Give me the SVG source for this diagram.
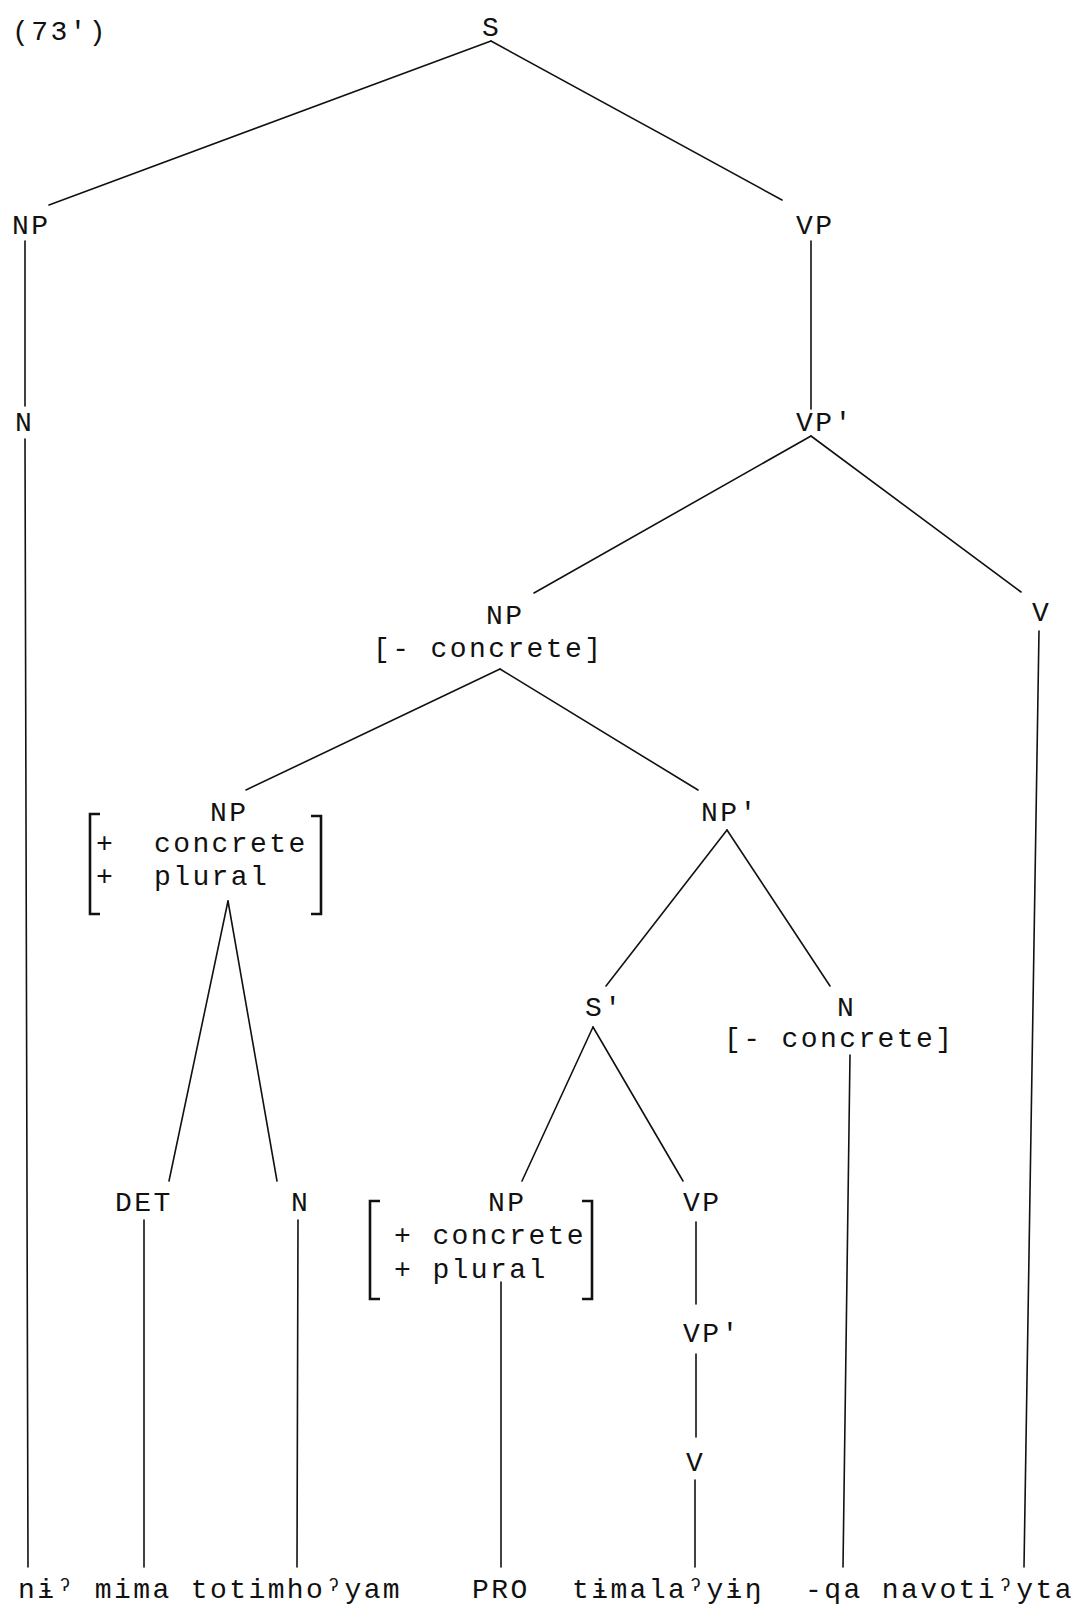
<svg xmlns="http://www.w3.org/2000/svg" width="1081" height="1610" viewBox="0 0 1081 1610">
<style>
text{font-family:"Liberation Mono","DejaVu Sans Mono",monospace;font-size:28px;letter-spacing:2.4px;fill:#111}
.e{stroke:#111;stroke-width:1.6;fill:none;stroke-linecap:round}
.br{stroke:#111;stroke-width:2.6;fill:none}
</style>
<rect width="1081" height="1610" fill="#fff"/>
<g id="connectors">
<line class="e" x1="491" y1="41" x2="49" y2="205"/>
<line class="e" x1="491" y1="41" x2="782" y2="200"/>
<line class="e" x1="25" y1="241" x2="25" y2="406"/>
<line class="e" x1="25" y1="439" x2="28" y2="1567"/>
<line class="e" x1="811" y1="241" x2="811" y2="409"/>
<line class="e" x1="811" y1="436" x2="534" y2="593"/>
<line class="e" x1="811" y1="436" x2="1021" y2="592"/>
<line class="e" x1="1039" y1="631" x2="1024" y2="1567"/>
<line class="e" x1="500" y1="669" x2="246" y2="790"/>
<line class="e" x1="500" y1="669" x2="698" y2="790"/>
<line class="e" x1="228" y1="901" x2="169" y2="1181"/>
<line class="e" x1="228" y1="901" x2="277" y2="1181"/>
<line class="e" x1="144" y1="1220" x2="144" y2="1567"/>
<line class="e" x1="298" y1="1220" x2="297" y2="1567"/>
<line class="e" x1="727" y1="830" x2="606" y2="986"/>
<line class="e" x1="727" y1="830" x2="830" y2="986"/>
<line class="e" x1="850" y1="1055" x2="843" y2="1567"/>
<line class="e" x1="593" y1="1027" x2="522" y2="1181"/>
<line class="e" x1="593" y1="1027" x2="683" y2="1181"/>
<line class="e" x1="501" y1="1282" x2="501" y2="1567"/>
<line class="e" x1="696" y1="1222" x2="696" y2="1304"/>
<line class="e" x1="696" y1="1354" x2="696" y2="1437"/>
<line class="e" x1="695" y1="1480" x2="695" y2="1567"/>
</g>
<g id="label"><text x="12" y="40">(73')</text></g>
<g id="n-S"><text x="482" y="36">S</text></g>
<g id="n-NP1"><text x="12" y="234">NP</text></g>
<g id="n-VP1"><text x="796" y="234">VP</text></g>
<g id="n-N1"><text x="15" y="431">N</text></g>
<g id="n-VPp1"><text x="796" y="431">VP'</text></g>
<g id="n-V1"><text x="1032" y="621">V</text></g>
<g id="n-NPabs"><text x="486" y="624">NP</text><text x="373" y="657">[- concrete]</text></g>
<g id="n-NPconc"><text x="210" y="821">NP</text>
<text x="96" y="852">+ <tspan x="154">concrete</tspan></text>
<text x="96" y="885">+ <tspan x="154">plural</tspan></text>
<path class="br" d="M100 814H90V914H100"/><path class="br" d="M311 816H321V914H311"/></g>
<g id="n-DET"><text x="115" y="1211">DET</text></g>
<g id="n-N2"><text x="291" y="1211">N</text></g>
<g id="n-NPp"><text x="701" y="821">NP'</text></g>
<g id="n-Sp"><text x="585" y="1016">S'</text></g>
<g id="n-N3"><text x="837" y="1016">N</text><text x="724" y="1047">[- concrete]</text></g>
<g id="n-NPpro"><text x="488" y="1211">NP</text>
<text x="394" y="1244">+ concrete</text>
<text x="394" y="1278">+ plural</text>
<path class="br" d="M380 1201H370V1299H380"/><path class="br" d="M582 1201H592V1299H582"/></g>
<g id="n-VP2"><text x="683" y="1211">VP</text></g>
<g id="n-VPp2"><text x="683" y="1342">VP'</text></g>
<g id="n-V2"><text x="686" y="1471">V</text></g>
<g id="leaves">
<text x="18" y="1598">nɨˀ mima totimhoˀyam</text>
<text x="472" y="1598">PRO</text>
<text x="572" y="1598">tɨmalaˀyɨŋ</text>
<text x="805" y="1598">-qa navotiˀyta</text>
</g>
</svg>
